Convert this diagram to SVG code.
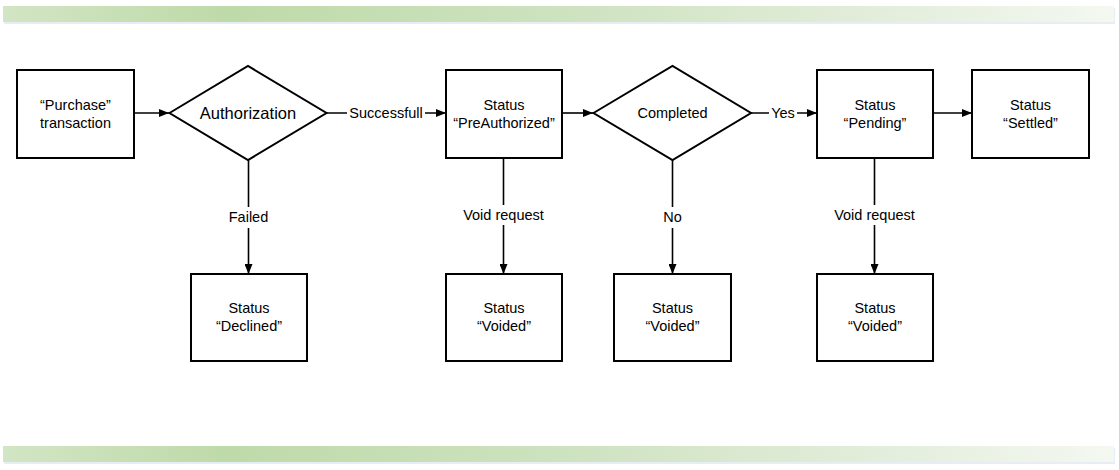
<svg xmlns="http://www.w3.org/2000/svg" width="1119" height="470" viewBox="0 0 1119 470">
<style>
.box{fill:#ffffff;stroke:#000000;stroke-width:2}
.ln{fill:none;stroke:#000000;stroke-width:1.6}
.t{font-family:"Liberation Sans",Arial,sans-serif;font-size:14.5px;fill:#000000;text-anchor:middle}
.big{font-size:16.5px}
.lbl{fill:#ffffff}
</style>
<defs>
<linearGradient id="bar" x1="0" y1="0" x2="1" y2="0">
<stop offset="0" stop-color="#d2e5c4"/>
<stop offset="0.2" stop-color="#bfdaa9"/>
<stop offset="0.5" stop-color="#cde2bf"/>
<stop offset="0.8" stop-color="#e4eedc"/>
<stop offset="1" stop-color="#f4f8f1"/>
</linearGradient>
<marker id="ah" viewBox="0 0 10 8" refX="10" refY="4" markerWidth="10" markerHeight="8" markerUnits="userSpaceOnUse" orient="auto">
<path d="M0,0 L10,4 L0,8 Z" fill="#000000"/>
</marker>
</defs>
<rect width="1119" height="470" fill="#ffffff"/>
<g id="bars">
<rect x="4" y="8" width="1111" height="16" fill="#e6edf4"/>
<rect x="3" y="6" width="1111" height="16" fill="url(#bar)"/>
<rect x="4" y="448" width="1111" height="16" fill="#e6edf4"/>
<rect x="3" y="446" width="1111" height="16" fill="url(#bar)"/>
</g>
<g id="connectors">
<line class="ln" x1="134" y1="113" x2="169" y2="113" marker-end="url(#ah)"/>
<line class="ln" x1="327" y1="113" x2="446" y2="113" marker-end="url(#ah)"/>
<line class="ln" x1="562" y1="113" x2="593" y2="113" marker-end="url(#ah)"/>
<line class="ln" x1="751" y1="113" x2="817" y2="113" marker-end="url(#ah)"/>
<line class="ln" x1="933" y1="113" x2="972" y2="113" marker-end="url(#ah)"/>
<line class="ln" x1="248.5" y1="160" x2="248.5" y2="274" marker-end="url(#ah)"/>
<line class="ln" x1="503.5" y1="158" x2="503.5" y2="274" marker-end="url(#ah)"/>
<line class="ln" x1="672.5" y1="160" x2="672.5" y2="274" marker-end="url(#ah)"/>
<line class="ln" x1="874.5" y1="158" x2="874.5" y2="274" marker-end="url(#ah)"/>
<rect class="lbl" x="347" y="104" width="78" height="18"/>
<text class="t" x="386" y="118">Successfull</text>
<rect class="lbl" x="769" y="104" width="28" height="18"/>
<text class="t" x="783" y="118">Yes</text>
<rect class="lbl" x="226" y="207" width="45" height="21"/>
<text class="t" x="248.5" y="222">Failed</text>
<rect class="lbl" x="459" y="205" width="89" height="20"/>
<text class="t" x="503.5" y="220">Void request</text>
<rect class="lbl" x="660" y="207" width="25" height="21"/>
<text class="t" x="672.5" y="222">No</text>
<rect class="lbl" x="830" y="205" width="89" height="20"/>
<text class="t" x="874.5" y="220">Void request</text>
</g>
<g id="purchase">
<rect class="box" x="17" y="70" width="117" height="88"/>
<text class="t" x="75.5" y="110">“Purchase”</text>
<text class="t" x="75.5" y="128">transaction</text>
</g>
<g id="authorization">
<polygon class="box" points="169.5,113 248,66 326.5,113 248,160"/>
<text class="t big" x="248" y="119">Authorization</text>
</g>
<g id="preauthorized">
<rect class="box" x="446" y="70" width="116" height="88"/>
<text class="t" x="504" y="109.5">Status</text>
<text class="t" x="504" y="127.5">“PreAuthorized”</text>
</g>
<g id="completed">
<polygon class="box" points="593.5,113 672.5,66 751,113 672.5,160"/>
<text class="t" x="672.5" y="117.5">Completed</text>
</g>
<g id="pending">
<rect class="box" x="817" y="70" width="116" height="88"/>
<text class="t" x="875" y="109.5">Status</text>
<text class="t" x="875" y="127.5">“Pending”</text>
</g>
<g id="settled">
<rect class="box" x="972" y="70" width="117" height="88"/>
<text class="t" x="1030.5" y="109.5">Status</text>
<text class="t" x="1030.5" y="127.5">“Settled”</text>
</g>
<g id="declined">
<rect class="box" x="191" y="274" width="116" height="87"/>
<text class="t" x="249" y="313">Status</text>
<text class="t" x="249" y="331">“Declined”</text>
</g>
<g id="voided1">
<rect class="box" x="446" y="274" width="116" height="87"/>
<text class="t" x="504" y="313">Status</text>
<text class="t" x="504" y="331">“Voided”</text>
</g>
<g id="voided2">
<rect class="box" x="614" y="274" width="117" height="87"/>
<text class="t" x="672.5" y="313">Status</text>
<text class="t" x="672.5" y="331">“Voided”</text>
</g>
<g id="voided3">
<rect class="box" x="817" y="274" width="116" height="87"/>
<text class="t" x="875" y="313">Status</text>
<text class="t" x="875" y="331">“Voided”</text>
</g>
</svg>
